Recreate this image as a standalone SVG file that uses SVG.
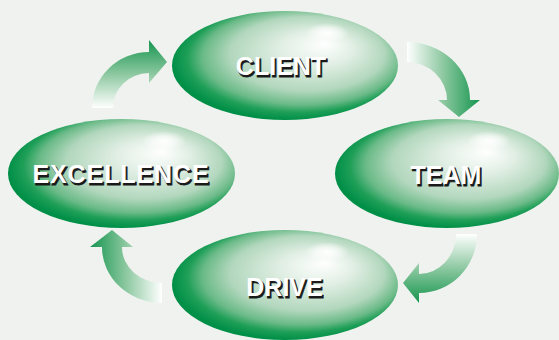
<svg xmlns="http://www.w3.org/2000/svg" width="559" height="340" viewBox="0 0 559 340">
<style>
.lbl{font-family:"Liberation Sans",Arial,sans-serif;font-weight:bold;font-size:25px;text-anchor:middle}
.sh{fill:#1a1a1a;stroke:#1a1a1a;stroke-width:0.8}
.fg{fill:#ffffff}
.node{fill:url(#eg)}
.hl{fill:url(#hg)}
</style>
<defs>
<radialGradient id="eg" cx="0.55" cy="0.45" r="0.55" fx="0.68" fy="0.3">
<stop offset="0" stop-color="#ffffff"/>
<stop offset="0.3" stop-color="#e0eee3"/>
<stop offset="0.62" stop-color="#b2d7bd"/>
<stop offset="0.8" stop-color="#6aba87"/>
<stop offset="0.9" stop-color="#1f9f58"/>
<stop offset="1" stop-color="#008f47"/>
</radialGradient>
<radialGradient id="hg" cx="0.5" cy="0.5" r="0.5">
<stop offset="0" stop-color="#ffffff" stop-opacity="1"/>
<stop offset="0.5" stop-color="#ffffff" stop-opacity="0.6"/>
<stop offset="1" stop-color="#ffffff" stop-opacity="0"/>
</radialGradient>
<linearGradient id="a1" x1="0" y1="1" x2="0" y2="0">
<stop offset="0" stop-color="#ffffff"/>
<stop offset="0.5" stop-color="#8cc8a0"/>
<stop offset="1" stop-color="#15954e"/>
</linearGradient>
<linearGradient id="a2" x1="0" y1="0" x2="1" y2="0">
<stop offset="0" stop-color="#ffffff"/>
<stop offset="0.5" stop-color="#8cc8a0"/>
<stop offset="1" stop-color="#15954e"/>
</linearGradient>
<linearGradient id="a3" x1="0" y1="0" x2="0" y2="1">
<stop offset="0" stop-color="#ffffff"/>
<stop offset="0.5" stop-color="#8cc8a0"/>
<stop offset="1" stop-color="#15954e"/>
</linearGradient>
<linearGradient id="a4" x1="1" y1="0" x2="0" y2="0">
<stop offset="0" stop-color="#ffffff"/>
<stop offset="0.5" stop-color="#8cc8a0"/>
<stop offset="1" stop-color="#15954e"/>
</linearGradient>
</defs>
<rect width="559" height="340" fill="#f0f2f0"/>
<g id="connectors">
<path fill="url(#a1)" d="M 92 108 A 57 56 0 0 1 149 52 L 149 40 L 167 62 L 149 83 L 149 73 A 36 35 0 0 0 113 108 Z"/>
<path fill="url(#a2)" d="M 407 42 A 63 58 0 0 1 470 100 L 480 100 L 459 117 L 438 100 L 447 100 A 40 38 0 0 0 407 62 Z"/>
<path fill="url(#a3)" d="M 477 234 A 58 59 0 0 1 419 293 L 419 303 L 403 283 L 419 263 L 419 274 A 37 40 0 0 0 456 234 Z"/>
<path fill="url(#a4)" d="M 162 303 A 60 56 0 0 1 102 247 L 90 247 L 112 230 L 133 247 L 122 247 A 40 36 0 0 0 162 283 Z"/>
</g>
<g id="client">
<ellipse class="node" cx="285" cy="65.5" rx="113" ry="54.5"/>
<ellipse class="hl" cx="327" cy="33" rx="22" ry="10"/>
<text class="lbl sh" x="282.5" y="76.5">CLIENT</text>
<text class="lbl fg" x="281" y="75">CLIENT</text>
</g>
<g id="team">
<ellipse class="node" cx="447" cy="173.5" rx="112" ry="54.5"/>
<ellipse class="hl" cx="489" cy="141" rx="22" ry="10"/>
<text class="lbl sh" x="447.5" y="185.5">TEAM</text>
<text class="lbl fg" x="446" y="184">TEAM</text>
</g>
<g id="excellence">
<ellipse class="node" cx="121.5" cy="173.5" rx="113.5" ry="54.5"/>
<ellipse class="hl" cx="164" cy="141" rx="22" ry="10"/>
<text class="lbl sh" x="122.5" y="184.5" letter-spacing="0.9">EXCELLENCE</text>
<text class="lbl fg" x="121" y="183" letter-spacing="0.9">EXCELLENCE</text>
</g>
<g id="drive">
<ellipse class="node" cx="285" cy="285" rx="113" ry="55"/>
<ellipse class="hl" cx="327" cy="252" rx="22" ry="10"/>
<text class="lbl sh" x="286" y="297.5">DRIVE</text>
<text class="lbl fg" x="284.5" y="296">DRIVE</text>
</g>
</svg>
